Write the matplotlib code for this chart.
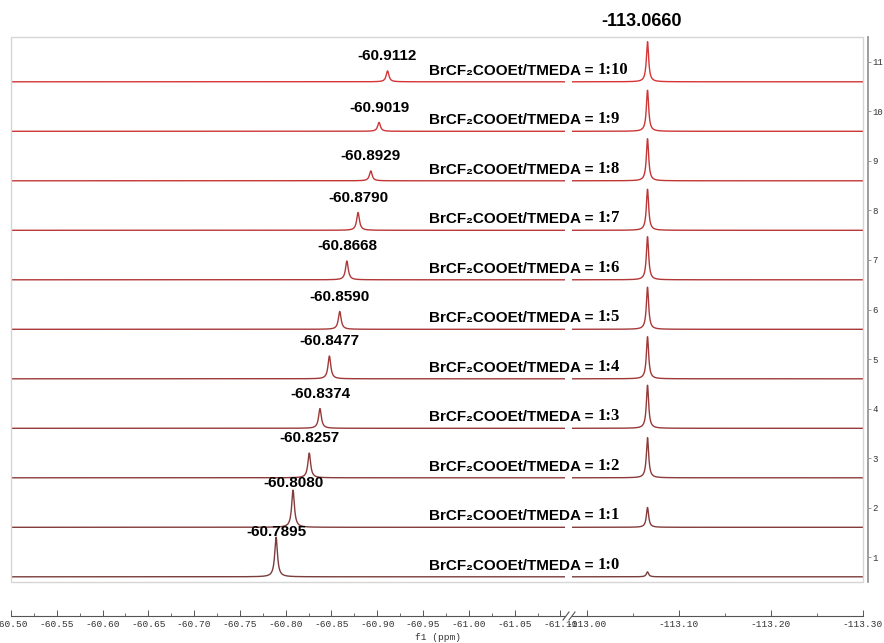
import numpy as np
import matplotlib.pyplot as plt
from matplotlib.lines import Line2D
from matplotlib.patches import Rectangle
from matplotlib.colors import to_rgb

# 19F NMR titration: BrCF2COOEt with increasing TMEDA, bottom (1:0) to top (1:10)
ratios = ["1:0", "1:1", "1:2", "1:3", "1:4", "1:5", "1:6", "1:7", "1:8", "1:9", "1:10"]
shift_cf2 = [-60.7895, -60.8080, -60.8257, -60.8374, -60.8477, -60.8590,
             -60.8668, -60.8790, -60.8929, -60.9019, -60.9112]
height_cf2 = [0.80, 0.75, 0.50, 0.40, 0.46, 0.36, 0.38, 0.36, 0.20, 0.18, 0.22]
shift_ref = -113.0660
height_ref = [0.10, 0.40, 0.81, 0.87, 0.85, 0.85, 0.87, 0.83, 0.85, 0.83, 0.81]

left_ticks = [-60.50, -60.55, -60.60, -60.65, -60.70, -60.75, -60.80, -60.85,
              -60.90, -60.95, -61.00, -61.05, -61.10]
right_ticks = [-113.00, -113.10, -113.20, -113.30]
stack_ticks = list(range(1, 12))

W, H = 884, 643
fig = plt.figure(figsize=(W / 100, H / 100), dpi=100)
PT = 72 / 100  # points per pixel


def fx(px):
    return px / W


def fy(py):
    return 1 - py / H


top, bot = 37, 582
ax_l = fig.add_axes([fx(11), fy(bot), fx(565 - 11), (bot - top) / H])
ax_r = fig.add_axes([fx(572), fy(bot), fx(863 - 572), (bot - top) / H])

ax_l.set_xlim(-60.50, -61.105)
ax_r.set_xlim(-112.984, -113.30)
for ax in (ax_l, ax_r):
    ax.set_ylim(0.495, 11.505)
    ax.set_facecolor("none")
    for s in ("top", "left", "right"):
        ax.spines[s].set_visible(False)
    ax.spines["bottom"].set_position(("outward", 34 * PT))
    ax.spines["bottom"].set_color("#555555")
    ax.spines["bottom"].set_linewidth(0.8)
    ax.tick_params(axis="x", direction="in", length=4, width=0.7, color="#555555",
                   labelsize=6.8, labelcolor="#333333", pad=3)
    ax.tick_params(axis="x", which="minor", direction="in", length=2.5, width=0.6,
                   color="#555555")
    ax.tick_params(axis="y", left=False, labelleft=False)

ax_l.set_xticks(left_ticks)
ax_l.set_xticklabels([f"{t:.2f}" for t in left_ticks], family="Liberation Mono")
ax_l.set_xticks(np.array(left_ticks[:-1]) - 0.025, minor=True)
ax_r.set_xticks(right_ticks)
ax_r.set_xticklabels([f"{t:.2f}" for t in right_ticks], family="Liberation Mono")
ax_r.set_xticks(np.array(right_ticks[:-1]) - 0.05, minor=True)

# stack index axis on the right
ax_r.spines["right"].set_visible(True)
ax_r.spines["right"].set_position(("outward", 5 * PT))
ax_r.spines["right"].set_color("#8c8c8c")
ax_r.spines["right"].set_linewidth(1.2)
ax_r.tick_params(axis="y", right=True, labelright=True, direction="out", length=2.5,
                 width=0.6, color="#8c8c8c", labelsize=6.5, labelcolor="#333333", pad=0.5)
ax_r.set_yticks(stack_ticks)
ax_r.set_yticklabels([str(t) for t in stack_ticks], family="Liberation Mono")

# light frame around the stacked spectra
fig.add_artist(Rectangle((fx(11), fy(bot)), fx(863 - 11), (bot - top) / H,
                         transform=fig.transFigure, fill=False, ec="#d6d6d6", lw=1.0))

# axis break marks
for dx in (0, 6):
    fig.add_artist(Line2D([fx(563 + dx), fx(569 + dx)], [fy(620), fy(612)],
                          transform=fig.transFigure, color="#555555", lw=0.8))

xs_l = np.linspace(-60.50, -61.105, 4000)
xs_r = np.linspace(-112.984, -113.30, 3000)
c_top, c_bot = np.array(to_rgb("#d63535")), np.array(to_rgb("#7a3c3c"))


def lorentz(x, x0, h, w):
    return h / (1 + ((x - x0) / w) ** 2)


sans = ["Liberation Sans", "DejaVu Sans"]
for i, ratio in enumerate(ratios):
    base = i + 1 - 0.4
    t = i / (len(ratios) - 1)
    col = c_bot * (1 - t) + c_top * t
    ax_l.plot(xs_l, base + lorentz(xs_l, shift_cf2[i], height_cf2[i], 0.0018),
              color=col, lw=1.0)
    ax_r.plot(xs_r, base + lorentz(xs_r, shift_ref, height_ref[i], 0.0015),
              color=col, lw=1.0)

    # shift label above the CF2 peak
    ly = min(base + height_cf2[i] + 0.30, base + 0.9)
    ax_l.text(shift_cf2[i], ly, f"{shift_cf2[i]:.4f}", ha="center", va="center",
              fontsize=11, fontweight="bold", family=sans, clip_on=False)

    # ratio label
    lab = ax_l.text(-60.9563, base + 0.14, "BrCF\u2082COOEt/TMEDA = ", ha="left",
                    va="baseline", fontsize=11, fontweight="bold", family=sans,
                    clip_on=False)
    ax_l.annotate(ratio, xy=(1, 0), xycoords=lab, va="bottom", ha="left",
                  fontsize=12, fontweight="bold", family="Liberation Serif",
                  annotation_clip=False)

ax_r.annotate(f"{shift_ref:.4f}", xy=(shift_ref, 11.81), xytext=(-4, 0),
              textcoords="offset points", ha="center", va="center",
              fontsize=13, fontweight="bold", family=sans, annotation_clip=False)

fig.text(fx(438), fy(638), "f1 (ppm)", ha="center", va="center", fontsize=6.8,
         family="Liberation Mono", color="#333333")

fig.savefig("out.png", dpi=100)
